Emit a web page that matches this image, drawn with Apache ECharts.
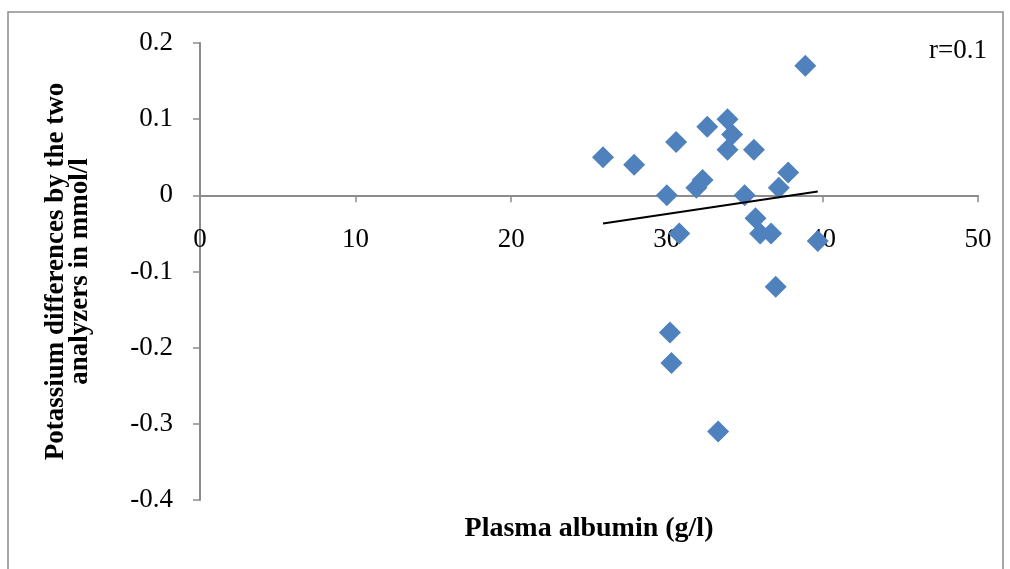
<!DOCTYPE html>
<html><head><meta charset="utf-8">
<script src="https://cdn.jsdelivr.net/npm/echarts@6/dist/echarts.min.js"></script>
<style>html,body{margin:0;padding:0;background:#fff}#c{width:1010px;height:569px}</style>
</head><body><div id="c"></div>
<script>
const albumin = [25.9, 27.9, 30.6, 30.0, 30.8, 30.2, 30.3, 31.9, 32.3, 32.6, 33.9, 34.2, 33.9, 33.3, 35.0, 35.6, 35.7, 36.0, 36.7, 37.0, 37.2, 37.8, 38.9, 39.7];
const potassiumDiff = [0.05, 0.04, 0.07, 0.00, -0.05, -0.18, -0.22, 0.01, 0.02, 0.09, 0.10, 0.08, 0.06, -0.31, 0.00, 0.06, -0.03, -0.05, -0.05, -0.12, 0.01, 0.03, 0.17, -0.06];
const trendX = [25.9, 39.7];
const trendY = [-0.037, 0.005];
const xTicks = [0, 10, 20, 30, 40, 50];
const yTicks = [0.2, 0.1, 0, -0.1, -0.2, -0.3, -0.4];
const annotation = 'r=0.1';

const pts = albumin.map((x, i) => [x, potassiumDiff[i]]);
const trend = trendX.map((x, i) => [x, trendY[i]]);
const font = 'Liberation Serif';
const gridTop = 43, gridBottom = 69, H = 569;
const yMin = yTicks[yTicks.length - 1], yMax = yTicks[0];
const plotH = H - gridTop - gridBottom;
// distance from bottom of grid up to the y = 0 line
const zeroOffset = plotH * (0 - yMin) / (yMax - yMin);

const chart = echarts.init(document.getElementById('c'), null, {renderer: 'canvas'});
chart.setOption({
  animation: false,
  backgroundColor: '#fff',
  grid: {left: 200, right: 32, top: gridTop, bottom: gridBottom, containLabel: false, outerBoundsMode: 'none'},
  graphic: [
    {type: 'rect', shape: {x: 8, y: 12, width: 995, height: 570}, style: {fill: 'none', stroke: '#8c8c8c', lineWidth: 1.5}, silent: true},
    {type: 'text', left: 929, top: 37, style: {text: annotation, font: '27px "Liberation Serif"', fill: '#000'}}
  ],
  xAxis: {
    type: 'value', min: xTicks[0], max: xTicks[xTicks.length - 1], interval: 10,
    position: 'bottom', offset: -zeroOffset,
    axisLine: {onZero: false, lineStyle: {color: '#8c8c8c', width: 2}},
    axisTick: {show: true, inside: false, length: 7, lineStyle: {color: '#8c8c8c', width: 1.5}},
    axisLabel: {margin: 31, color: '#000', fontFamily: font, fontSize: 27},
    splitLine: {show: false},
    name: 'Plasma albumin (g/l)', nameLocation: 'middle', nameGap: 319,
    nameTextStyle: {fontFamily: font, fontSize: 28, fontWeight: 'bold', color: '#000', verticalAlign: 'top'}
  },
  yAxis: {
    type: 'value', min: yMin, max: yMax, interval: 0.1,
    axisLine: {show: true, onZero: false, lineStyle: {color: '#8c8c8c', width: 2}},
    axisTick: {show: true, inside: false, length: 7, lineStyle: {color: '#8c8c8c', width: 1.5}},
    axisLabel: {margin: 27, color: '#000', fontFamily: font, fontSize: 27, formatter: v => (Math.round(v * 10) / 10).toString()},
    splitLine: {show: false},
    name: 'Potassium differences by the two\nanalyzers in mmol/l', nameLocation: 'middle', nameGap: 108, nameRotate: 90,
    nameTextStyle: {fontFamily: font, fontSize: 27, fontWeight: 'bold', color: '#000', lineHeight: 24}
  },
  series: [
    {type: 'scatter', data: pts, symbol: 'diamond', symbolSize: 22, itemStyle: {color: '#4F81BD', opacity: 1}, z: 3},
    {type: 'line', data: trend, showSymbol: false, symbol: 'none', lineStyle: {color: '#000', width: 2}, z: 4}
  ]
});
</script></body></html>
